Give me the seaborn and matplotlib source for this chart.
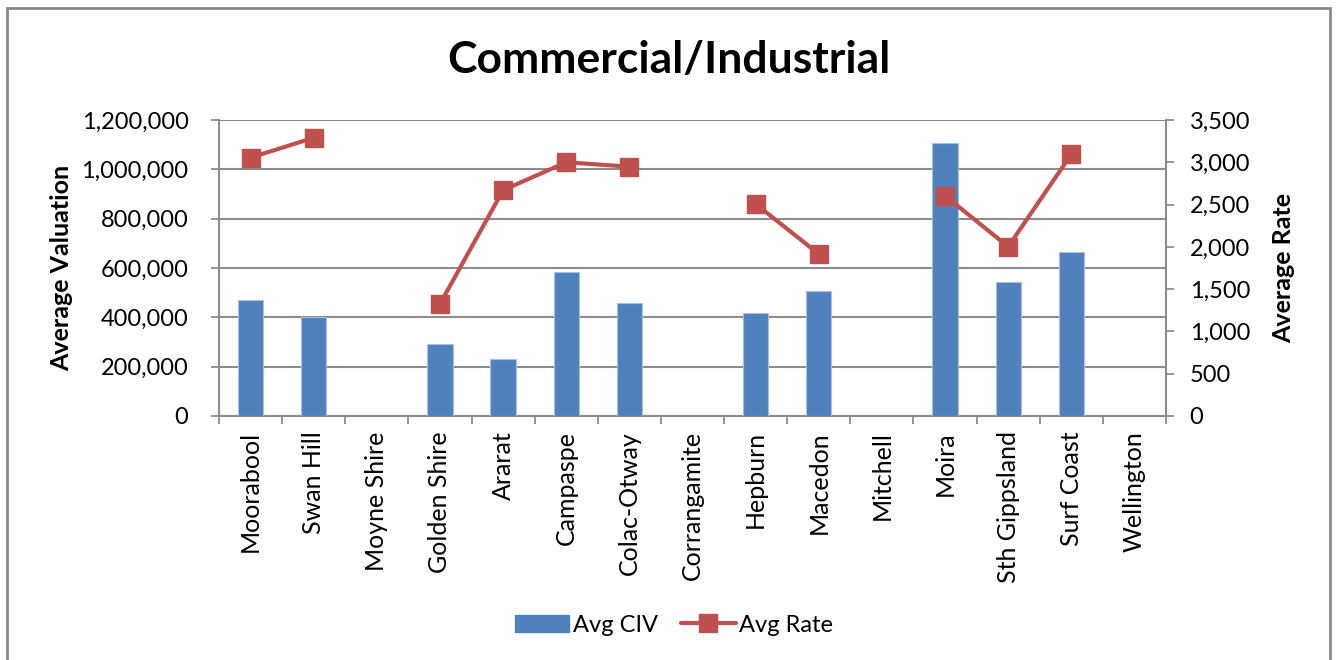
import numpy as np
import pandas as pd
import matplotlib
matplotlib.use("Agg")
import matplotlib.pyplot as plt
from matplotlib.lines import Line2D
from matplotlib.patches import Patch, Rectangle
from matplotlib.ticker import FuncFormatter, FixedLocator
import seaborn as sns

# Council areas and their average valuation / rate (NaN where no figure)
councils = ["Moorabool", "Swan Hill", "Moyne Shire", "Golden Shire", "Ararat",
            "Campaspe", "Colac-Otway", "Corrangamite", "Hepburn", "Macedon",
            "Mitchell", "Moira", "Sth Gippsland", "Surf Coast", "Wellington"]
avg_civ = [469000, 400000, np.nan, 291000, 230000,
           584000, 458000, np.nan, 419000, 507000,
           np.nan, 1107000, 543000, 664000, np.nan]
avg_rate = [3055, 3290, np.nan, 1325, 2670,
            3000, 2948, np.nan, 2507, 1916,
            np.nan, 2605, 2002, 3094, np.nan]

BLUE = "#4F81BD"
RED = "#C0504D"
GRID = "#8C8C8C"

sns.set_theme(style="white")
plt.rcParams["font.family"] = ["Lato", "DejaVu Sans"]
plt.rcParams["text.color"] = "black"
plt.rcParams["axes.labelcolor"] = "black"
plt.rcParams["xtick.color"] = "black"
plt.rcParams["ytick.color"] = "black"

df = pd.DataFrame({"council": councils, "civ": avg_civ, "rate": avg_rate})

fig = plt.figure(figsize=(13.38, 6.6), dpi=100)
ax = fig.add_axes([219 / 1338, 1 - 416 / 660, (1166 - 219) / 1338, (416 - 120) / 660])

sns.barplot(data=df, x="council", y="civ", color=BLUE, width=0.4,
            saturation=1, edgecolor="#A9BFDD", linewidth=0.8, ax=ax, zorder=3)

ax.set_ylim(0, 1200000)
ax.set_xlim(-0.5, len(councils) - 0.5)
ax.yaxis.set_major_locator(FixedLocator(np.arange(0, 1200001, 200000)))
ax.yaxis.set_major_formatter(FuncFormatter(lambda v, p: f"{int(v):,}"))
ax.grid(axis="y", color=GRID, linewidth=1.5, zorder=0)
ax.set_axisbelow(True)

# category labels sit between boundary ticks
ax.xaxis.set_major_locator(FixedLocator(np.arange(-0.5, len(councils), 1.0)))
ax.xaxis.set_minor_locator(FixedLocator(np.arange(len(councils))))
ax.set_xticklabels([], minor=False)
ax.set_xticklabels(councils, minor=True, rotation=90, fontsize=18)
ax.tick_params(axis="x", which="major", length=6, width=1.3, color=GRID, direction="out", bottom=True)
ax.tick_params(axis="x", which="minor", length=0, pad=11)
ax.tick_params(axis="y", length=6, width=1.3, color=GRID, direction="out", left=True,
               labelsize=17, pad=16)

for side in ["top", "right"]:
    ax.spines[side].set_visible(False)
for side in ["left", "bottom"]:
    ax.spines[side].set_color(GRID)
    ax.spines[side].set_linewidth(1.5)

ax.set_xlabel("")
ax.set_ylabel("Average Valuation", fontsize=18, fontweight="bold", labelpad=6)

# secondary axis for the average rate
ax2 = ax.twinx()
ax2.set_ylim(0, 3500)
ax2.yaxis.set_major_locator(FixedLocator(np.arange(0, 3501, 500)))
ax2.yaxis.set_major_formatter(FuncFormatter(lambda v, p: f"{int(v):,}"))
ax2.tick_params(axis="y", length=6, width=1.3, color=GRID, direction="out", right=True,
                labelsize=17, pad=11)
for side in ["top", "left", "bottom"]:
    ax2.spines[side].set_visible(False)
ax2.spines["right"].set_color(GRID)
ax2.spines["right"].set_linewidth(1.5)
ax2.grid(False)

xpos = np.arange(len(councils))
ax2.plot(xpos, df["rate"].to_numpy(), color=RED, linewidth=3, marker="s",
         markersize=13, markerfacecolor=RED, markeredgecolor=RED, zorder=4)
ax2.set_ylabel("Average Rate", fontsize=18, fontweight="bold", labelpad=16)

fig.text(0.5, 1 - 60 / 660, "Commercial/Industrial", ha="center", va="center",
         fontsize=32, fontweight="bold")

handles = [Patch(facecolor=BLUE, edgecolor=BLUE),
           Line2D([0], [0], color=RED, linewidth=3, marker="s", markersize=13)]
fig.legend(handles, ["Avg CIV", "Avg Rate"], loc="center", ncol=2,
           bbox_to_anchor=(674 / 1338, 1 - 625 / 660), frameon=False, fontsize=17,
           handlelength=2.3, columnspacing=1.0, handletextpad=0.15)

# outer chart frame
fig.patches.append(Rectangle((7 / 1338, -0.05), (1330 - 7) / 1338, 1.05 - 8 / 660,
                             transform=fig.transFigure, fill=False,
                             edgecolor="#8A8A8A", linewidth=2))

fig.savefig("out.png", dpi=100)
